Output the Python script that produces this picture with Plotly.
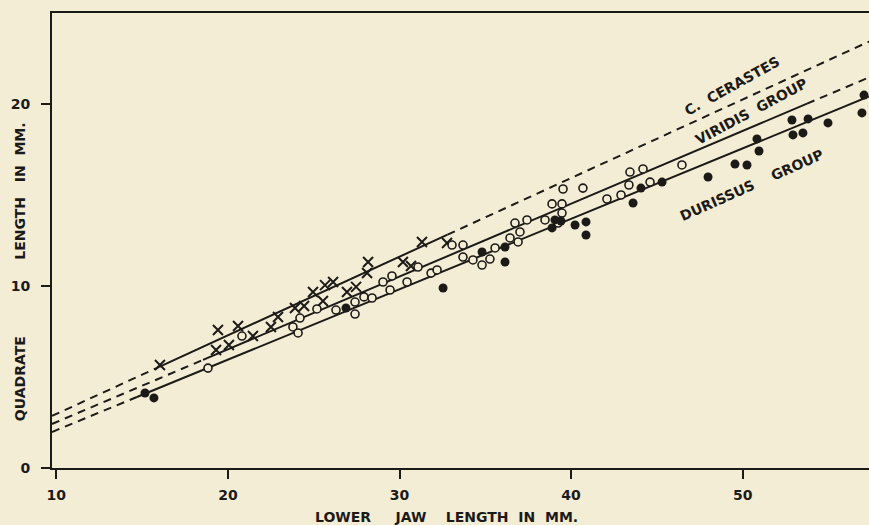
import plotly.graph_objects as go

# ---------------- data ----------------
# C. cerastes (X markers)
cerastes_x = [16.04, 19.42, 20.59, 19.31, 20.06, 21.46, 22.51, 22.92, 23.91, 24.44, 24.96,
              25.66, 26.13, 25.54, 26.94, 27.47, 28.11, 28.17, 30.20, 30.67, 31.31, 32.77]
cerastes_y = [5.66, 7.58, 7.80, 6.48, 6.76, 7.25, 7.75, 8.30, 8.79, 8.90, 9.67,
              10.05, 10.22, 9.18, 9.67, 9.95, 10.71, 11.32, 11.32, 11.10, 12.42, 12.36]

# Viridis group (open circles)
viridis_x = [18.84, 20.82, 23.79, 24.09, 24.20, 25.19, 26.30, 27.41, 27.41, 27.93, 28.40,
             29.04, 29.56, 29.45, 30.44, 31.08, 31.84, 32.19, 33.06, 33.70, 33.70, 34.28,
             34.81, 35.27, 35.57, 36.44, 36.91, 37.02, 36.73, 37.43, 38.48, 38.89, 39.47,
             39.47, 39.24, 39.53, 40.69, 42.09, 42.91, 43.37, 43.43, 44.19, 44.60, 46.46]
viridis_y = [5.49, 7.25, 7.75, 7.42, 8.24, 8.74, 8.68, 8.46, 9.12, 9.40, 9.34,
             10.22, 10.55, 9.78, 10.22, 11.04, 10.71, 10.88, 12.25, 12.25, 11.59, 11.43,
             11.15, 11.48, 12.09, 12.64, 12.42, 12.97, 13.46, 13.63, 13.63, 14.51, 14.51,
             14.01, 13.46, 15.33, 15.38, 14.78, 15.00, 15.55, 16.26, 16.43, 15.71, 16.65]

# Durissus group (filled dots)
durissus_x = [15.17, 15.69, 26.88, 32.54, 34.81, 36.15, 36.15, 38.89, 39.06, 39.41, 40.23,
              40.87, 40.87, 43.61, 44.07, 45.30, 47.98, 49.55, 50.25, 50.83, 50.95, 52.87,
              52.93, 53.51, 53.81, 54.97, 56.95, 57.07]
durissus_y = [4.12, 3.85, 8.79, 9.89, 11.87, 12.14, 11.32, 13.19, 13.63, 13.57, 13.35,
              13.52, 12.80, 14.56, 15.38, 15.71, 15.99, 16.70, 16.65, 18.08, 17.42, 19.12,
              18.30, 18.41, 19.18, 18.96, 19.51, 20.49]

# regression lines: breakpoints (left edge, solid start, solid end, right edge)
cer_line_x = [9.75, 16.0, 32.8, 57.36]
cer_line_y = [2.86, 5.56, 12.82, 23.43]
vir_line_x = [9.75, 18.55, 53.75, 57.36]
vir_line_y = [2.42, 5.94, 20.02, 21.46]
dur_line_x = [9.75, 14.7, 57.36]
dur_line_y = [1.98, 3.90, 20.41]

x_ticks = [10, 20, 30, 40, 50]
y_ticks = [0, 10, 20]

# ---------------- styling ----------------
BG = "#f4edd6"
INK = "#1c1a17"
FONT = "DejaVu Sans"
DASH = "8px,6px"
LW = 2

fig = go.Figure()

def add_line(xs, ys, solid_idx):
    i0, i1 = solid_idx
    dx, dy = [], []
    if i0 > 0:
        dx += xs[:i0 + 1] + [None]
        dy += ys[:i0 + 1] + [None]
    if i1 < len(xs) - 1:
        dx += xs[i1:]
        dy += ys[i1:]
    fig.add_trace(go.Scatter(x=dx, y=dy, mode="lines", connectgaps=False,
                             line=dict(color=INK, width=LW, dash=DASH),
                             hoverinfo="skip", showlegend=False))
    fig.add_trace(go.Scatter(x=xs[i0:i1 + 1], y=ys[i0:i1 + 1], mode="lines",
                             line=dict(color=INK, width=LW),
                             hoverinfo="skip", showlegend=False))

add_line(cer_line_x, cer_line_y, (1, 2))
add_line(vir_line_x, vir_line_y, (1, 2))
add_line(dur_line_x, dur_line_y, (1, 2))

fig.add_trace(go.Scatter(x=cerastes_x, y=cerastes_y, mode="markers", name="C. cerastes",
                         marker=dict(symbol="x-thin", size=10, line=dict(color=INK, width=2)),
                         showlegend=False))
fig.add_trace(go.Scatter(x=viridis_x, y=viridis_y, mode="markers", name="Viridis group",
                         marker=dict(symbol="circle", size=8, color=BG,
                                     line=dict(color=INK, width=1.6)),
                         showlegend=False))
fig.add_trace(go.Scatter(x=durissus_x, y=durissus_y, mode="markers", name="Durissus group",
                         marker=dict(symbol="circle", size=9, color=INK,
                                     line=dict(color=INK, width=0)),
                         showlegend=False))

tick_font = dict(family=FONT, size=14, color=INK, weight="bold")

fig.update_layout(
    width=869, height=525,
    margin=dict(l=52, r=0, t=13, b=57),
    paper_bgcolor=BG, plot_bgcolor=BG,
    xaxis=dict(range=[9.75, 57.36], tickvals=x_ticks, ticks="outside", ticklen=9,
               tickwidth=2, tickcolor=INK, showline=True, linewidth=2, linecolor=INK,
               mirror=True, showgrid=False, zeroline=False, tickfont=tick_font,
               ticklabelstandoff=4),
    yaxis=dict(range=[0, 25.0], tickvals=y_ticks, ticks="outside", ticklen=9,
               tickwidth=2, tickcolor=INK, showline=True, linewidth=2, linecolor=INK,
               showgrid=False, zeroline=False, tickfont=tick_font,
               ticklabelstandoff=8),
)

ann_font = dict(family=FONT, size=14, color=INK, weight="bold")
NB = "\u00a0"
common = dict(showarrow=False, font=ann_font, xanchor="center", yanchor="middle")
annotations = [
    dict(text="LOWER" + NB * 5 + "JAW" + NB * 4 + "LENGTH" + NB * 2 + "IN" + NB * 2 + "MM.",
         xref="x", yref="paper", x=32.71, y=-0.108, **common),
    dict(text="QUADRATE", xref="paper", yref="paper", x=-0.039, y=0.1956,
         textangle=-90, **common),
    dict(text="LENGTH" + NB * 3 + "IN" + NB * 2 + "MM.", xref="paper", yref="paper",
         x=-0.039, y=0.6077, textangle=-90, **common),
    dict(text="C." + NB * 2 + "CERASTES", xref="x", yref="y", x=49.38, y=20.99,
         textangle=-29, **common),
    dict(text="VIRIDIS" + NB * 2 + "GROUP", xref="x", yref="y", x=50.54, y=19.62,
         textangle=-28, **common),
    dict(text="DURISSUS" + NB * 4 + "GROUP", xref="x", yref="y", x=50.54, y=15.55,
         textangle=-24, **common),
]
fig.update_layout(annotations=annotations)

fig.write_html(
    "out.html",
    config={"displayModeBar": False},
    post_script="document.body.style.margin='0';document.body.style.overflow='hidden';",
)
